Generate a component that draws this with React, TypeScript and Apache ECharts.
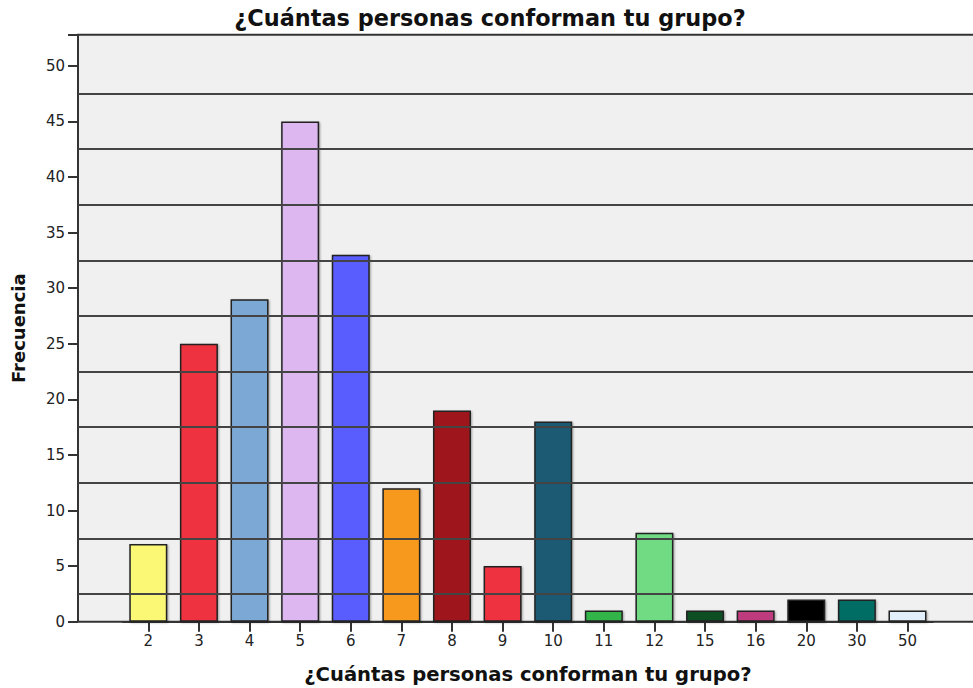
import React, { useEffect, useRef } from "react";
import * as echarts from "echarts";

const categories = ["2", "3", "4", "5", "6", "7", "8", "9", "10", "11", "12", "15", "16", "20", "30", "50"];
const frequencies = [7, 25, 29, 45, 33, 12, 19, 5, 18, 1, 8, 1, 1, 2, 2, 1];
const barColors = [
  "#fbf875", "#ef3340", "#7ca8d5", "#ddb8f0", "#5a5dfd", "#f7991e", "#9e161b", "#ef3340",
  "#1b5a73", "#33b44a", "#6fdb83", "#0c4f23", "#be3b7e", "#000000", "#016d65", "#e2eefa",
];
const yTicks = [0, 5, 10, 15, 20, 25, 30, 35, 40, 45, 50];
const gridLineValues = [2.5, 7.5, 12.5, 17.5, 22.5, 27.5, 32.5, 37.5, 42.5, 47.5];
const titleText = "¿Cuántas personas conforman tu grupo?";
const xName = "¿Cuántas personas conforman tu grupo?";
const yName = "Frecuencia";

const FONT = "'DejaVu Sans', Verdana, sans-serif";
const Y_MAX = 52.8;

export default function App() {
  const ref = useRef<HTMLDivElement>(null);
  useEffect(() => {
    if (!ref.current) return;
    const chart = echarts.init(ref.current, undefined, { renderer: "svg" });
    const top = 34.7;
    const bottom = 66.3;
    chart.setOption({
      animation: false,
      backgroundColor: "#ffffff",
      textStyle: { fontFamily: FONT },
      title: {
        text: titleText,
        left: 490,
        textAlign: "center",
        top: 7,
        padding: 0,
        textStyle: { fontFamily: FONT, fontSize: 22.4, fontWeight: "bold", color: "#111" },
      },
      grid: [
        {
          left: 78, right: -5, top, bottom,
          show: true, backgroundColor: "#f0f0f0", borderColor: "#333", borderWidth: 2,
          containLabel: false,
          outerBoundsMode: "none",
        },
        { left: 123, width: 809.8, top, bottom, show: false, containLabel: false, outerBoundsMode: "none" },
      ],
      xAxis: [
        { gridIndex: 0, type: "value", min: 0, max: 1, show: false },
        {
          gridIndex: 1,
          type: "category",
          data: categories,
          boundaryGap: true,
          axisLine: { show: true, lineStyle: { color: "#333", width: 2 } },
          axisTick: { show: true, alignWithLabel: true, length: 10, lineStyle: { color: "#333", width: 2 } },
          axisLabel: { fontSize: 15, color: "#222", margin: 12, fontFamily: FONT },
          name: xName,
          nameLocation: "middle",
          nameGap: 42,
          nameTextStyle: { fontSize: 19.6, lineHeight: 22, fontWeight: "bold", color: "#111", fontFamily: FONT },
        },
      ],
      yAxis: [
        {
          gridIndex: 0,
          type: "value",
          min: 0,
          max: Y_MAX,
          interval: 5,
          axisLine: { show: false },
          axisTick: { show: true, length: 10, lineStyle: { color: "#333", width: 2 } },
          axisLabel: {
            fontSize: 15, color: "#222", margin: 13, fontFamily: FONT,
            formatter: (v: number) => (yTicks.includes(v) ? String(v) : ""),
          },
          splitLine: { show: false },
          name: yName,
          nameLocation: "middle",
          nameGap: 51,
          nameTextStyle: { fontSize: 18, fontWeight: "bold", color: "#111", fontFamily: FONT },
        },
        { gridIndex: 1, type: "value", min: 0, max: Y_MAX, show: false },
      ],
      series: [
        {
          type: "line",
          xAxisIndex: 0,
          yAxisIndex: 0,
          data: [],
          z: 1,
          silent: true,
          markLine: {
            silent: true,
            symbol: ["none", "none"],
            label: { show: false },
            lineStyle: { color: "#444", width: 2, type: "solid" },
            data: gridLineValues.map((v) => ({ yAxis: v })),
          },
        },
        {
          type: "bar",
          xAxisIndex: 1,
          yAxisIndex: 1,
          barWidth: 38,
          z: 3,
          data: frequencies.map((v, i) => ({
            value: v,
            itemStyle: {
              color: barColors[i],
              borderColor: "#222",
              borderWidth: 1.5,
              shadowColor: "rgba(0,0,0,0.35)",
              shadowBlur: 2,
              shadowOffsetX: 1,
              shadowOffsetY: 1,
            },
          })),
        },
      ],
    });
    return () => chart.dispose();
  }, []);
  return (
    <div
      ref={ref}
      style={{ position: "fixed", left: 0, top: 0, width: 973, height: 688 }}
    />
  );
}
